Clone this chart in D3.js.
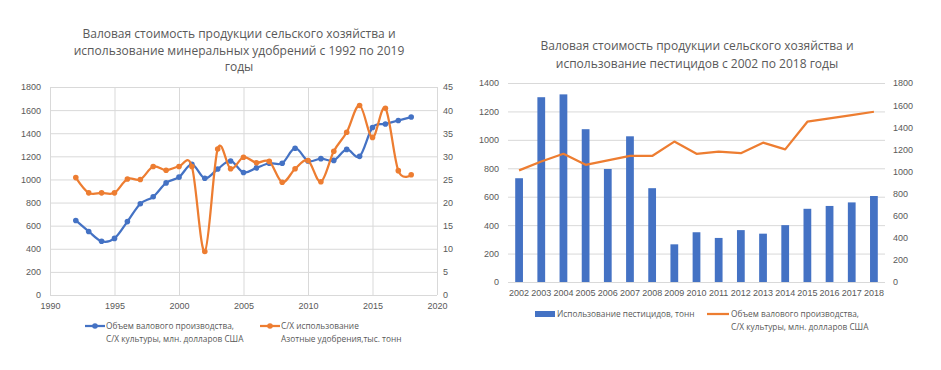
<!DOCTYPE html>
<html>
<head>
<meta charset="utf-8">
<script src="https://cdn.jsdelivr.net/npm/d3@7"></script>
<style>
  body { margin: 0; background: #fff; }
  svg { display: block; font-family: "Open Sans", "Liberation Sans", sans-serif; }
  .tick text { fill: #595959; }
</style>
</head>
<body>
<div id="chart"></div>
<script>
// ---- data ----
const years = [1992, 1993, 1994, 1995, 1996, 1997, 1998, 1999, 2000, 2001, 2002, 2003, 2004,
  2005, 2006, 2007, 2008, 2009, 2010, 2011, 2012, 2013, 2014, 2015, 2016, 2017, 2018];
// gross value of agricultural production, mln USD
const grossValue = [645, 550, 465, 490, 635, 790, 850, 970, 1020, 1130, 1010, 1090, 1160,
  1060, 1100, 1140, 1140, 1270, 1160, 1180, 1165, 1260, 1200, 1450, 1480, 1510, 1540];
// nitrogen fertilizers, thousand tonnes
const nitrogen = [25.4, 22.1, 22.1, 22.1, 25.1, 25.0, 27.8, 27.0, 27.8, 27.8, 9.4, 31.6, 27.3,
  29.8, 28.6, 28.9, 24.4, 27.3, 29.1, 24.5, 31.1, 35.2, 41.0, 34.1, 40.4, 26.9, 26.0];

const pestYears = ["2002", "2003", "2004", "2005", "2006", "2007", "2008", "2009", "2010",
  "2011", "2012", "2013", "2014", "2015", "2016", "2017", "2018"];
// pesticide use, tonnes
const pesticides = [730, 1300, 1320, 1075, 795, 1025, 660, 265, 350, 310, 365, 340, 400,
  515, 535, 560, 605];

const leftTicks1 = [0, 200, 400, 600, 800, 1000, 1200, 1400, 1600, 1800];
const rightTicks1 = [0, 5, 10, 15, 20, 25, 30, 35, 40, 45];
const xTicks1 = [1990, 1995, 2000, 2005, 2010, 2015, 2020];
const leftTicks2 = [0, 200, 400, 600, 800, 1000, 1200, 1400];
const rightTicks2 = [0, 200, 400, 600, 800, 1000, 1200, 1400, 1600, 1800];

const title1 = ["Валовая стоимость продукции сельского хозяйства и",
  "использование минеральных удобрений с 1992 по 2019", "годы"];
const title2 = ["Валовая стоимость продукции сельского хозяйства и",
  "использование пестицидов с 2002 по 2018 годы"];

const blue = "#4472c4", orange = "#ed7d31", grid = "#d9d9d9", textCol = "#595959";
const fmt = d3.format("d");

const svg = d3.select("#chart").append("svg")
  .attr("width", 941)
  .attr("height", 370);

function styleAxis(g, size) {
  g.select(".domain").remove();
  g.selectAll(".tick line").remove();
  g.selectAll(".tick text").style("font-size", size + "px").attr("fill", textCol);
}

// ================= left chart =================
{
  const left = 50, right = 437, top = 87, bottom = 295;
  const x = d3.scaleLinear().domain([1990, 2020]).range([left, right]);
  const y = d3.scaleLinear().domain([0, 1800]).range([bottom, top]);
  const y2 = d3.scaleLinear().domain([0, 45]).range([bottom, top]);

  const g = svg.append("g");

  g.append("g")
    .attr("transform", `translate(${left},0)`)
    .call(d3.axisLeft(y).tickValues(leftTicks1).tickSize(-(right - left)).tickFormat(""))
    .call(a => a.select(".domain").remove())
    .selectAll("line").attr("stroke", grid);
  g.append("g")
    .attr("transform", `translate(0,${bottom})`)
    .call(d3.axisBottom(x).tickValues(xTicks1).tickSize(-(bottom - top)).tickFormat(""))
    .call(a => a.select(".domain").remove())
    .selectAll("line").attr("stroke", grid);

  g.append("g")
    .attr("transform", `translate(${left - 1},0)`)
    .call(d3.axisLeft(y).tickValues(leftTicks1).tickSize(0).tickPadding(8).tickFormat(fmt))
    .call(a => styleAxis(a, 9));
  g.append("g")
    .attr("transform", `translate(${right},0)`)
    .call(d3.axisRight(y2).tickValues(rightTicks1).tickSize(0).tickPadding(6).tickFormat(fmt))
    .call(a => styleAxis(a, 9));
  g.append("g")
    .attr("transform", `translate(0,${bottom})`)
    .call(d3.axisBottom(x).tickValues(xTicks1).tickSize(0).tickPadding(8).tickFormat(fmt))
    .call(a => styleAxis(a, 9));

  const lineBlue = d3.line().x((d, i) => x(years[i])).y(d => y(d)).curve(d3.curveCatmullRom.alpha(0));
  const lineOrange = d3.line().x((d, i) => x(years[i])).y(d => y2(d)).curve(d3.curveCatmullRom.alpha(0));

  g.append("path").datum(grossValue)
    .attr("d", lineBlue).attr("fill", "none").attr("stroke", blue).attr("stroke-width", 2.25);
  g.selectAll(".pb").data(grossValue).join("circle")
    .attr("cx", (d, i) => x(years[i])).attr("cy", d => y(d)).attr("r", 2.8).attr("fill", blue);

  g.append("path").datum(nitrogen)
    .attr("d", lineOrange).attr("fill", "none").attr("stroke", orange).attr("stroke-width", 2.25);
  g.selectAll(".po").data(nitrogen).join("circle")
    .attr("cx", (d, i) => x(years[i])).attr("cy", d => y2(d)).attr("r", 2.8).attr("fill", orange);

  g.selectAll(".title").data(title1).join("text")
    .attr("x", 239).attr("y", (d, i) => 38 + i * 16.5)
    .attr("text-anchor", "middle").attr("fill", textCol).style("font-size", "12px")
    .text(d => d);

  // legend
  const leg = [
    {c: blue, x: 85, lines: ["Объем валового производства,", "С/Х культуры, млн. долларов США"]},
    {c: orange, x: 260, lines: ["С/Х использование", "Азотные удобрения,тыс. тонн"]}
  ];
  leg.forEach(l => {
    g.append("line").attr("x1", l.x).attr("x2", l.x + 20).attr("y1", 326).attr("y2", 326)
      .attr("stroke", l.c).attr("stroke-width", 2.25);
    g.append("circle").attr("cx", l.x + 10).attr("cy", 326).attr("r", 2.8).attr("fill", l.c);
    l.lines.forEach((t, i) => {
      g.append("text").attr("x", l.x + 21).attr("y", 329 + i * 12.5)
        .attr("fill", textCol).style("font-size", "8.3px").text(t);
    });
  });
}

// ================= right chart =================
{
  const left = 508, right = 885, top = 83, bottom = 282;
  const x = d3.scaleBand().domain(pestYears).range([left, right]).paddingInner(0.65).paddingOuter(0.325);
  const y = d3.scaleLinear().domain([0, 1400]).range([bottom, top]);
  const y2 = d3.scaleLinear().domain([0, 1800]).range([bottom, top]);

  const g = svg.append("g");

  g.append("g")
    .attr("transform", `translate(${left},0)`)
    .call(d3.axisLeft(y).tickValues(leftTicks2).tickSize(-(right - left)).tickFormat(""))
    .call(a => a.select(".domain").remove())
    .selectAll("line").attr("stroke", grid);

  g.append("g")
    .attr("transform", `translate(${left - 2},0)`)
    .call(d3.axisLeft(y).tickValues(leftTicks2).tickSize(0).tickPadding(7).tickFormat(fmt))
    .call(a => styleAxis(a, 9));
  g.append("g")
    .attr("transform", `translate(${right},0)`)
    .call(d3.axisRight(y2).tickValues(rightTicks2).tickSize(0).tickPadding(8).tickFormat(fmt))
    .call(a => styleAxis(a, 9));
  g.append("g")
    .attr("transform", `translate(0,${bottom})`)
    .call(d3.axisBottom(x).tickSize(0).tickPadding(8))
    .call(a => styleAxis(a, 9));

  g.selectAll(".bar").data(pesticides).join("rect")
    .attr("x", (d, i) => x(pestYears[i]))
    .attr("width", x.bandwidth())
    .attr("y", d => y(d))
    .attr("height", d => bottom - y(d))
    .attr("fill", blue);

  const grossPest = pestYears.map(yr => grossValue[years.indexOf(+yr)]);
  const line = d3.line().x((d, i) => x(pestYears[i]) + x.bandwidth() / 2).y(d => y2(d));
  g.append("path").datum(grossPest)
    .attr("d", line).attr("fill", "none").attr("stroke", orange).attr("stroke-width", 2.25)
    .attr("stroke-linejoin", "round");

  g.selectAll(".title").data(title2).join("text")
    .attr("x", 697).attr("y", (d, i) => 50 + i * 17.5)
    .attr("text-anchor", "middle").attr("fill", textCol).style("font-size", "12px")
    .text(d => d);

  // legend
  g.append("rect").attr("x", 535).attr("y", 311).attr("width", 20).attr("height", 6).attr("fill", blue);
  g.append("text").attr("x", 557).attr("y", 317).attr("fill", textCol).style("font-size", "8.3px")
    .text("Использование пестицидов, тонн");
  g.append("line").attr("x1", 707).attr("x2", 729).attr("y1", 314).attr("y2", 314)
    .attr("stroke", orange).attr("stroke-width", 2.25);
  ["Объем валового производства,", "С/Х культуры, млн. долларов США"].forEach((t, i) => {
    g.append("text").attr("x", 731).attr("y", 317 + i * 12.5)
      .attr("fill", textCol).style("font-size", "8.3px").text(t);
  });
}
</script>
</body>
</html>
